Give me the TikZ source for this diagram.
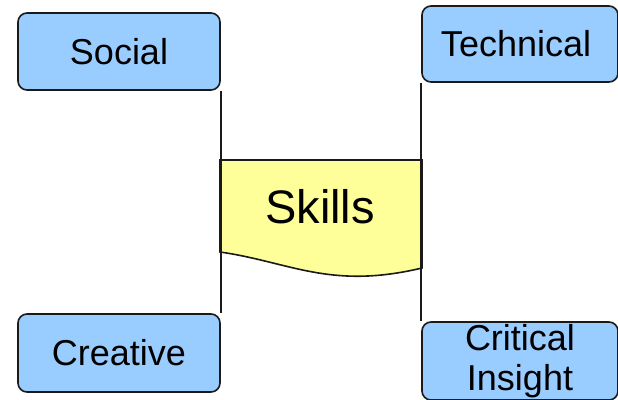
\documentclass[tikz,border=0pt]{standalone}
\usepackage{fontspec}
\setmainfont{Liberation Sans}
\definecolor{boxblue}{HTML}{99CCFF}
\definecolor{skillyellow}{HTML}{FFFF99}
\definecolor{edge}{HTML}{1A1A1A}
\begin{document}
\begin{tikzpicture}[x=1pt,y=-1pt,
  box/.style={draw=edge, line width=1.6pt, fill=boxblue, rounded corners=9pt,
    inner sep=0pt, align=center, font=\fontsize{36}{43}\selectfont},
  conn/.style={draw=edge, line width=1.6pt}]
\useasboundingbox (0,0) rectangle (618,399);
\clip (0,0) rectangle (618,399);
% Skills document shape
\draw[conn, fill=skillyellow] (220,160) -- (422,160) -- (422,268)
  .. controls (330,290) and (290,262) .. (220,252) -- cycle;
\node[font=\fontsize{47}{56}\selectfont] (skills) at (320,207) {Skills};
% boxes
\node[box, minimum width=202pt, minimum height=77pt] (social) at (119,51.5) {Social};
\node[box, minimum width=196pt, minimum height=76pt, text width=188pt,
  align=center, xshift=0pt] (technical) at (520,44) {\hspace*{-8pt}Technical};
\node[box, minimum width=202pt, minimum height=78pt] (creative) at (119,353) {Creative};
\node[box, minimum width=196pt, minimum height=78pt] (critical) at (520,361) {Critical\\[-3pt]Insight};
% connectors
\draw[conn] (social.south east) -- (creative.north east);
\draw[conn] (technical.south west) -- (critical.north west);
\end{tikzpicture}
\end{document}
